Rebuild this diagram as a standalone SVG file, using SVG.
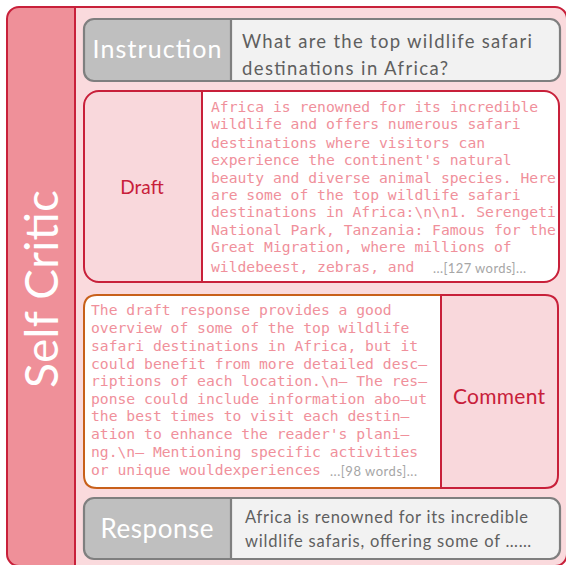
<svg xmlns="http://www.w3.org/2000/svg" width="566" height="565" viewBox="0 0 566 565">
<style>
.sans{font-family:Lato,"Open Sans","DejaVu Sans",sans-serif}
.mono{font-family:"DejaVu Sans Mono","Liberation Mono",monospace;font-size:14.7px;fill:#f0909b}
.crim{stroke:#c8203a;stroke-width:2}
.gray{stroke:#7f7f7f;stroke-width:2.2}
.lbl{fill:#ffffff;text-anchor:middle}
.txt{fill:#5f5f5f}
.more{fill:#a6a6a6;font-size:13px}
</style>
<rect width="566" height="565" fill="#ffffff"/>
<g id="frame">
<rect x="7" y="7" width="560" height="559" rx="12" fill="#fadadd"/>
<path d="M75 7 H19 Q7 7 7 19 V554 Q7 566 19 566 H75 Z" fill="#ef9099"/>
<rect x="7" y="7" width="560" height="559" rx="12" fill="none" class="crim"/>
<line x1="75" y1="7" x2="75" y2="566" class="crim"/>
<text class="sans" x="0" y="0" transform="translate(58 289) rotate(-90)" font-size="46" fill="#ffffff" text-anchor="middle" textLength="198">Self Critic</text>
</g>
<g id="instruction">
<rect x="84" y="19" width="476" height="62" rx="10" fill="#f2f2f2"/>
<path d="M231 19 H94 Q84 19 84 29 V71 Q84 81 94 81 H231 Z" fill="#bfbfbf"/>
<rect x="84" y="19" width="476" height="62" rx="10" fill="none" class="gray"/>
<line x1="231" y1="19" x2="231" y2="81" class="gray"/>
<text class="sans lbl" x="157" y="58" font-size="25" textLength="129">Instruction</text>
<text class="sans txt" font-size="18.5"><tspan x="242" y="48" textLength="290">What are the top wildlife safari</tspan><tspan x="242" y="75" textLength="206">destinations in Africa?</tspan></text>
</g>
<g id="draft">
<rect x="84" y="91" width="475" height="191" rx="15" fill="#f9d8dc"/>
<path d="M202 91 H544 Q559 91 559 106 V267 Q559 282 544 282 H202 Z" fill="#ffffff"/>
<rect x="84" y="91" width="475" height="191" rx="15" fill="none" class="crim"/>
<line x1="202" y1="91" x2="202" y2="282" class="crim"/>
<text class="sans" x="142" y="194" font-size="19" fill="#c8203a" text-anchor="middle">Draft</text>
<text class="mono">
<tspan x="211" y="112">Africa is renowned for its incredible</tspan>
<tspan x="211" y="129">wildlife and offers numerous safari</tspan>
<tspan x="211" y="148">destinations where visitors can</tspan>
<tspan x="211" y="165">experience the continent's natural</tspan>
<tspan x="211" y="183">beauty and diverse animal species. Here</tspan>
<tspan x="211" y="200">are some of the top wildlife safari</tspan>
<tspan x="211" y="217">destinations in Africa:\n\n1. Serengeti</tspan>
<tspan x="211" y="235">National Park, Tanzania: Famous for the</tspan>
<tspan x="211" y="252">Great Migration, where millions of</tspan>
<tspan x="211" y="272">wildebeest, zebras, and</tspan>
</text>
<text class="sans more" x="433" y="273" textLength="93">...[127 words]...</text>
</g>
<g id="comment">
<path d="M441 295 H97 Q84 295 84 308 V475 Q84 488 97 488 H441 Z" fill="#ffffff" stroke="#c8601a" stroke-width="2"/>
<path d="M441 295 H545 Q558 295 558 308 V475 Q558 488 545 488 H441 Z" fill="#f9d8dc" class="crim"/>
<text class="sans" x="499" y="404" font-size="21" fill="#c8203a" text-anchor="middle" textLength="92">Comment</text>
<text class="mono">
<tspan x="91" y="315">The draft response provides a good</tspan>
<tspan x="91" y="333">overview of some of the top wildlife</tspan>
<tspan x="91" y="351">safari destinations in Africa, but it</tspan>
<tspan x="91" y="369">could benefit from more detailed desc–</tspan>
<tspan x="91" y="386">riptions of each location.\n– The res–</tspan>
<tspan x="91" y="404">ponse could include information abo–ut</tspan>
<tspan x="91" y="421">the best times to visit each destin–</tspan>
<tspan x="91" y="439">ation to enhance the reader's plani–</tspan>
<tspan x="91" y="457">ng.\n– Mentioning specific activities</tspan>
<tspan x="91" y="475">or unique wouldexperiences</tspan>
</text>
<text class="sans more" x="330" y="476" textLength="87">...[98 words]...</text>
</g>
<g id="response">
<rect x="84" y="498" width="476" height="61" rx="10" fill="#f2f2f2"/>
<path d="M231 498 H94 Q84 498 84 508 V549 Q84 559 94 559 H231 Z" fill="#bfbfbf"/>
<rect x="84" y="498" width="476" height="61" rx="10" fill="none" class="gray"/>
<line x1="231" y1="498" x2="231" y2="559" class="gray"/>
<text class="sans lbl" x="157" y="538" font-size="26" textLength="113">Response</text>
<text class="sans txt" font-size="16.5"><tspan x="245" y="523" textLength="283">Africa is renowned for its incredible</tspan><tspan x="245" y="547" textLength="286">wildlife safaris, offering some of ……</tspan></text>
</g>
</svg>
